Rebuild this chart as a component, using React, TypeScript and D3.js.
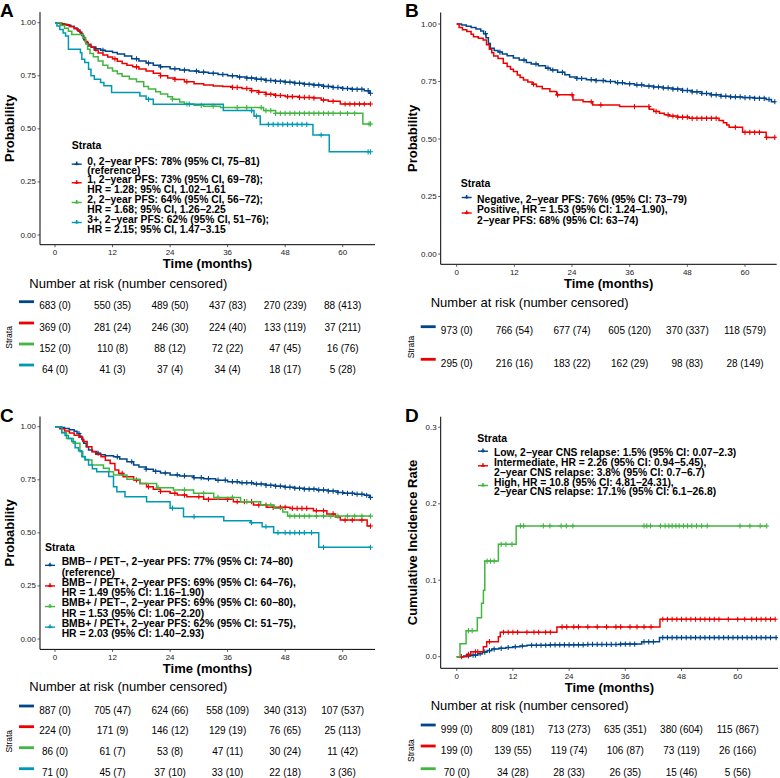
import React from 'react';
import * as d3 from 'd3';

type Pt = [number, number];

// ---------- shared ----------
const TIME_TICKS = [0, 12, 24, 36, 48, 60];
const PROB_TICKS = [0, 0.25, 0.5, 0.75, 1];
const CIR_TICKS = [0, 0.1, 0.2, 0.3];
const COLORS = ['#00468B', '#ED0000', '#42B540', '#0099B4'];

// ---------- Panel A ----------
const A_CURVE_0: Pt[] = [[0,1],[0.8,0.997],[1.5,0.993],[2.5,0.988],[3.3,0.982],[4,0.975],[4.6,0.966],[5.2,0.955],[5.6,0.94],[6,0.92],[6.4,0.905],[6.9,0.89],[7.6,0.884],[8.5,0.877],[9.5,0.87],[10.5,0.865],[12,0.86],[13,0.852],[14.5,0.843],[16,0.83],[17.5,0.82],[19,0.81],[20.5,0.8],[22,0.792],[24,0.783],[26,0.777],[28,0.772],[30,0.767],[32,0.762],[34,0.756],[36,0.75],[38,0.744],[40,0.739],[42,0.734],[44,0.728],[46,0.724],[48,0.72],[50,0.715],[52,0.71],[54,0.706],[56,0.7],[58,0.695],[60,0.69],[62,0.686],[64.5,0.68],[65.5,0.668]];
const A_CURVE_1: Pt[] = [[0,1],[1,0.995],[2,0.99],[3,0.982],[4,0.972],[4.8,0.96],[5.3,0.948],[5.8,0.93],[6.3,0.912],[6.8,0.898],[7.5,0.885],[8.2,0.87],[9,0.857],[10,0.848],[11,0.838],[12,0.83],[13,0.818],[14,0.808],[15,0.8],[16.2,0.792],[17.5,0.782],[19,0.772],[20.5,0.762],[22,0.75],[23.5,0.74],[25,0.733],[27,0.722],[29,0.712],[31,0.706],[33,0.702],[35,0.699],[37,0.695],[39,0.69],[41,0.68],[42.5,0.672],[44,0.663],[46,0.657],[48,0.652],[51,0.648],[54,0.645],[55.5,0.636],[57,0.63],[59.5,0.617]];
const A_CURVE_2: Pt[] = [[0,1],[1.2,0.987],[2,0.974],[2.8,0.96],[3.5,0.945],[5.8,0.928],[6.4,0.9],[6.8,0.875],[7.3,0.855],[8,0.84],[9,0.82],[10,0.8],[11,0.787],[12,0.773],[13,0.76],[14,0.748],[15.5,0.735],[17,0.722],[18.5,0.7],[19.5,0.688],[21,0.675],[22,0.664],[23.5,0.651],[24.5,0.64],[26,0.627],[27,0.617],[29,0.611],[31,0.607],[34.5,0.6],[43.5,0.586],[46,0.573],[64.2,0.523]];
const A_CURVE_3: Pt[] = [[0,1],[0.4,0.984],[1,0.968],[1.7,0.952],[2.2,0.937],[2.8,0.875],[5.3,0.859],[5.6,0.828],[6.2,0.812],[7,0.781],[7.5,0.75],[8.2,0.734],[9.5,0.718],[10.2,0.703],[11.8,0.671],[17.7,0.655],[19,0.639],[20.5,0.616],[35.1,0.586],[41.5,0.56],[42.8,0.521],[53.8,0.471],[57.2,0.392]];
const A_CENSOR_0 = [8.5,10,17,19.5,22,25,27,29.5,31,33,35,37,38.5,40,41,42,43,44,45,46,47,48,49,50,51,52,53,54,55,56,57,58,59,60,61,62,63,64,65.3,65.8];
const A_CENSOR_1 = [12.5,17,22,25,27.5,37,38,40,41,42.5,44,45,46,47,48.5,49.5,51,52,53,54,56,58,60.5,61.5,62.5,63.5,64.5,65.8];
const A_CENSOR_2 = [24.5,27.5,30.5,33,38,40,43,44,45,46,47,48,49,50,51,52,53,54,55,56,57,58,59.5,61,62.5,65.5,65.8];
const A_CENSOR_3 = [19.5,28,41,42,44.5,45.5,46.5,47.5,48.5,49.5,50.5,51.5,52.5,55.5,65.3,65.8];
const A_AT_RISK = [[683,550,489,437,270,88],[369,281,246,224,133,37],[152,110,88,72,47,16],[64,41,37,34,18,5]];
const A_CENSORED = [[0,35,50,83,239,413],[0,24,30,40,119,211],[0,8,12,22,45,76],[0,3,4,4,17,28]];
const A_LEGEND = [
  ['0, 2−year PFS: 78% (95% CI, 75−81)', '(reference)'],
  ['1, 2−year PFS: 73% (95% CI, 69−78);', 'HR = 1.28; 95% CI, 1.02−1.61'],
  ['2, 2−year PFS: 64% (95% CI, 56−72);', 'HR = 1.68; 95% CI, 1.26−2.25'],
  ['3+, 2−year PFS: 62% (95% CI, 51−76);', 'HR = 2.15; 95% CI, 1.47−3.15'],
];

// ---------- Panel B ----------
const B_CURVE_0: Pt[] = [[0,1],[1,0.996],[2,0.99],[3,0.985],[4,0.978],[5,0.97],[5.6,0.958],[6.1,0.94],[6.6,0.915],[7,0.895],[7.8,0.885],[8.6,0.878],[9.5,0.87],[10.5,0.862],[11.8,0.852],[13,0.843],[14.5,0.833],[15.5,0.826],[17,0.818],[18.5,0.808],[19.5,0.8],[21,0.79],[22.5,0.779],[23.5,0.77],[25,0.763],[27,0.758],[29,0.754],[31,0.75],[33,0.745],[35,0.74],[37,0.735],[39,0.73],[41,0.726],[43,0.722],[45,0.717],[47,0.711],[49,0.705],[51,0.698],[53,0.692],[55,0.686],[57,0.683],[59.5,0.68],[62,0.677],[64.4,0.672],[65.5,0.662]];
const B_CURVE_1: Pt[] = [[0,1],[0.5,0.985],[1.2,0.975],[2.1,0.967],[3,0.955],[3.5,0.945],[4.5,0.938],[5.5,0.93],[6.2,0.91],[6.8,0.89],[7.3,0.875],[7.7,0.861],[8.6,0.85],[9.7,0.829],[10.5,0.815],[11.2,0.803],[11.8,0.793],[12.6,0.778],[13.2,0.767],[13.9,0.757],[14.8,0.748],[15.7,0.738],[16.6,0.728],[17.8,0.718],[19.4,0.706],[20.8,0.692],[24.2,0.67],[26.3,0.662],[28.3,0.648],[33.9,0.641],[40.1,0.629],[41,0.62],[42.2,0.612],[43.2,0.605],[44.3,0.6],[46,0.595],[48.4,0.59],[54.6,0.58],[55.5,0.571],[56.2,0.561],[56.7,0.551],[59.5,0.529],[64.4,0.507]];
const B_CENSOR_0 = [6,9,14,16.5,19,20,22,25,26,28,29,30.5,32,33.5,34.5,36,37.5,38.5,40,41,42,43,44,45,46,47,48,49,50,51,52,53,54,55,56,57,58,59,60,61,62,63,64,65,66.2];
const B_CENSOR_1 = [16,21,24,28,30,37,40,41.5,44,45,46,47,48,49,50,51,52,53,54,58,60,61,62,63,64.5,66.2];
const B_AT_RISK = [[973,766,677,605,370,118],[295,216,183,162,98,28]];
const B_CENSORED = [[0,54,74,120,337,579],[0,16,22,29,83,149]];
const B_LEGEND = [
  ['Negative, 2−year PFS: 76% (95% CI: 73−79)'],
  ['Positive, HR = 1.53 (95% CI: 1.24−1.90),', '2−year PFS: 68% (95% CI: 63−74)'],
];

// ---------- Panel C ----------
const C_CURVE_0: Pt[] = [[0,1],[1,0.996],[2,0.992],[3,0.986],[4,0.978],[4.6,0.968],[5.2,0.955],[5.6,0.94],[6,0.922],[6.5,0.905],[7,0.89],[7.8,0.883],[8.7,0.875],[9.5,0.868],[10.5,0.863],[12.2,0.858],[13.5,0.848],[15,0.835],[16.4,0.82],[17.5,0.81],[19,0.8],[20.5,0.79],[22,0.782],[24,0.773],[26,0.768],[28.9,0.76],[31,0.755],[33.5,0.748],[36,0.741],[38.5,0.736],[41.4,0.73],[44,0.724],[46,0.72],[48,0.715],[50,0.71],[52,0.706],[54.6,0.702],[57,0.697],[59,0.69],[60.2,0.686],[62.5,0.682],[64.5,0.677],[65.6,0.667]];
const C_CURVE_1: Pt[] = [[0,1],[1,0.99],[2,0.98],[3,0.97],[4,0.96],[5,0.95],[5.8,0.93],[6.7,0.906],[7.7,0.882],[8.5,0.87],[9.6,0.859],[10.5,0.842],[11.5,0.827],[12.5,0.796],[13.3,0.78],[14.2,0.764],[16.4,0.749],[17.7,0.733],[19.1,0.717],[20.5,0.705],[22,0.695],[24,0.686],[25.5,0.678],[27.5,0.67],[31,0.658],[37.2,0.647],[41.4,0.631],[44.2,0.62],[49,0.615],[53.9,0.604],[56.7,0.589],[58.5,0.575],[59.5,0.56],[65.1,0.532]];
const C_CURVE_2: Pt[] = [[0,1],[1.4,0.973],[2.4,0.945],[3.8,0.922],[5.2,0.882],[5.8,0.86],[6.25,0.843],[7.7,0.82],[10.1,0.804],[11.3,0.788],[12.2,0.772],[15,0.752],[17.7,0.733],[21.2,0.713],[24.7,0.702],[28.9,0.686],[33.1,0.667],[38.7,0.647],[42.9,0.631],[45.7,0.616],[47.5,0.598],[48.5,0.579]];
const C_CURVE_3: Pt[] = [[0,1],[1.4,0.972],[2.1,0.958],[2.8,0.944],[3.5,0.93],[4.2,0.901],[4.9,0.887],[5.6,0.859],[6.3,0.845],[7,0.82],[7.8,0.802],[8.7,0.788],[11.2,0.765],[12.2,0.717],[12.9,0.694],[14.6,0.67],[19.1,0.647],[24,0.616],[26.8,0.576],[35.2,0.557],[40.8,0.548],[43.2,0.529],[45.6,0.501],[55,0.432]];
const C_CENSOR_0 = [5,9,13,16,19,21,23,25.5,27,29,30.5,32,34,35.5,37,38,39,40,41,42,43,44,45,46,47,48,49,50,51,52,53,54,55,56,57,58,59,60,61,62,63,64,65,65.8];
const C_CENSOR_1 = [14,17,19.5,22,25,27,30,32,36,38,39.5,41,42.5,44,45.5,47,48,49.5,50.5,51.5,52.5,54.5,56,58,60.5,62,64,65.8];
const C_CENSOR_2 = [21.5,27,31,34,37,40,45,49,50,51,52,53,54.5,56,57.5,59,61,62.5,64,65.8];
const C_CENSOR_3 = [24.5,29,41,44,46.5,48,49,50,51,52,53.5,56,65.8];
const C_AT_RISK = [[887,705,624,558,340,107],[224,171,146,129,76,25],[86,61,53,47,30,11],[71,45,37,33,22,3]];
const C_CENSORED = [[0,47,66,109,313,537],[0,9,12,19,65,113],[0,7,8,11,24,42],[0,7,10,10,18,36]];
const C_LEGEND = [
  ['BMB− / PET−, 2−year PFS: 77% (95% CI: 74−80)', '(reference)'],
  ['BMB− / PET+, 2−year PFS: 69% (95% CI: 64−76),', 'HR = 1.49 (95% CI: 1.16−1.90)'],
  ['BMB+ / PET−, 2−year PFS: 69% (95% CI: 60−80),', 'HR = 1.53 (95% CI: 1.06−2.20)'],
  ['BMB+ / PET+, 2−year PFS: 62% (95% CI: 51−75),', 'HR = 2.03 (95% CI: 1.40−2.93)'],
];

// ---------- Panel D ----------
const D_CURVE_0: Pt[] = [[0,0],[1.5,0.001],[3,0.002],[4.5,0.004],[5.5,0.006],[6.5,0.008],[7.5,0.01],[9,0.011],[10.5,0.012],[12,0.013],[13.5,0.014],[15,0.015],[20,0.0155],[28,0.016],[35,0.0165],[39.5,0.0195],[43.3,0.025]];
const D_CURVE_1: Pt[] = [[0,0],[2.1,0.003],[3,0.0065],[5.7,0.013],[6.4,0.0196],[8.9,0.026],[9.3,0.032],[21.4,0.039],[43.4,0.049]];
const D_CURVE_2: Pt[] = [[0,0],[0.7,0.017],[2,0.034],[4.4,0.051],[5.3,0.07],[5.7,0.087],[6,0.125],[8.9,0.147],[12.7,0.171]];
const D_CENSOR_0 = [2.5,3.5,4,5,6,7,8,9.5,11,12.5,14,16,17,18,19,20,21,22,23,24,25,26,27,28,29,30,31,32,33,34,35,36,37,38,40,41,42,44,45,46,47,48,49,50,51,52,53,54,55,56,57,58,59,60,61,62,63,64,65,66,67,68.2];
const D_CENSOR_1 = [1,2.5,4,4.5,7,10,11,12,13,15,16.5,17.5,19,20,22.5,23.5,25,26,28,30,32,34,35,37,38.5,40,41.5,44,45,46,47,48,49,50,51,52,53,54,55,56,58,60,61.5,63,64,65,66,67,68];
const D_CENSOR_2 = [2.5,3.3,6.5,7.2,8,9.5,10.5,11.8,13.6,14.3,18.5,19.9,22.3,23.4,24.8,40,40.6,41.4,43.5,44.5,45.3,46,46.8,47.5,48.4,49.3,50.2,51.2,52.3,53.5,60.5,62.6,64.8,66.2];
const D_AT_RISK = [[999,809,713,635,380,115],[199,139,119,106,73,26],[70,34,28,26,15,5]];
const D_CENSORED = [[0,181,273,351,604,867],[0,55,74,87,119,166],[0,28,33,35,46,56]];
const D_LEGEND = [
  ['Low, 2−year CNS relapse: 1.5% (95% CI: 0.07−2.3)'],
  ['Intermediate, HR = 2.26 (95% CI: 0.94−5.45),', '2−year CNS relapse: 3.8% (95% CI: 0.7−6.7)'],
  ['High, HR = 10.8 (95% CI: 4.81−24.31),', '2−year CNS relapse: 17.1% (95% CI: 6.1−26.8)'],
];

// ---------- rendering ----------
const FONT = '"Liberation Sans", Arial, Helvetica, sans-serif';

interface PanelCfg {
  id: string;
  letter: string; letterX: number; letterY: number;
  frame: { left: number; right: number; top: number; bottom: number };
  xRange: [number, number];
  yDomain: [number, number]; yRange: [number, number];
  yTicks: number[]; yFmt: (v: number) => string;
  yLabel: string; yLabelX: number;
  curves: Pt[][]; censors: number[][];
  legend: string[][];
  legendLayout: { titleX: number; titleY: number; textX: number; keyX: number; lineYs: number[] };
  atRisk: number[][]; censored: number[][];
  riskLayout: { titleX: number; titleY: number; rowYs: number[]; barX: [number, number]; strataX: number };
}

function stepAt(points: Pt[], t: number): number {
  let v = points[0][1];
  for (const p of points) {
    if (p[0] <= t) v = p[1];
    else break;
  }
  return v;
}

function Panel({ cfg }: { cfg: PanelCfg }) {
  const x = d3.scaleLinear().domain([0, 60]).range(cfg.xRange);
  const y = d3.scaleLinear().domain(cfg.yDomain).range(cfg.yRange);
  const f = cfg.frame;
  const line = d3.line<Pt>().x(d => x(d[0])).y(d => y(d[1])).curve(d3.curveStepAfter);
  const clipId = 'clip-' + cfg.id;
  const L = cfg.legendLayout;
  const R = cfg.riskLayout;

  let li = 0;
  const legendItems = cfg.legend.map((lines, i) => {
    const ys = lines.map(() => L.lineYs[li++]);
    return { lines, ys, color: COLORS[i] };
  });

  return (
    <g fontFamily={FONT}>
      <defs>
        <clipPath id={clipId}>
          <rect x={f.left} y={f.top} width={f.right - f.left} height={f.bottom - f.top} />
        </clipPath>
      </defs>
      <text x={cfg.letterX} y={cfg.letterY} fontSize={19} fontWeight="bold" fill="#000">{cfg.letter}</text>

      <g clipPath={`url(#${clipId})`}>
        {cfg.curves.map((pts, i) => {
          const cens = cfg.censors[i];
          const lastT = Math.max(pts[pts.length - 1][0], cens.length ? cens[cens.length - 1] : 0);
          const ext: Pt[] = [...pts, [lastT, pts[pts.length - 1][1]]];
          return (
            <g key={i}>
              <path d={line(ext) || ''} fill="none" stroke={COLORS[i]} strokeWidth={1.5} />
              {cens.map((t, j) => {
                const cx = x(t), cy = y(stepAt(pts, t));
                return <path key={j} d={`M${cx - 2.5},${cy}H${cx + 2.5}M${cx},${cy - 2.6}V${cy + 2.6}`} stroke={COLORS[i]} strokeWidth={1.1} fill="none" />;
              })}
            </g>
          );
        })}
      </g>

      <line x1={f.left} x2={f.left} y1={f.top} y2={f.bottom} stroke="#000" strokeWidth={1} />
      <line x1={f.left} x2={f.right} y1={f.bottom} y2={f.bottom} stroke="#000" strokeWidth={1} />
      {cfg.yTicks.map(v => (
        <g key={v}>
          <line x1={f.left - 2.5} x2={f.left} y1={y(v)} y2={y(v)} stroke="#333" strokeWidth={0.8} />
          <text x={f.left - 4} y={y(v)} fontSize={8} textAnchor="end" dominantBaseline="central" fill="#222">{cfg.yFmt(v)}</text>
        </g>
      ))}
      {TIME_TICKS.map(t => (
        <g key={t}>
          <line x1={x(t)} x2={x(t)} y1={f.bottom} y2={f.bottom + 2.5} stroke="#333" strokeWidth={0.8} />
          <text x={x(t)} y={f.bottom + 8} fontSize={8} textAnchor="middle" dominantBaseline="central" fill="#222">{t}</text>
        </g>
      ))}
      <text x={(f.left + f.right) / 2} y={f.bottom + 19} fontSize={13} fontWeight="bold" textAnchor="middle" dominantBaseline="central">Time (months)</text>
      <text transform={`translate(${cfg.yLabelX},${(f.top + f.bottom) / 2}) rotate(-90)`} fontSize={13} fontWeight="bold" textAnchor="middle">{cfg.yLabel}</text>

      <text x={L.titleX} y={L.titleY} fontSize={10.5} fontWeight="bold" dominantBaseline="central">Strata</text>
      {legendItems.map((it, i) => {
        const ky = d3.mean(it.ys)! - 1.5;
        return (
          <g key={i}>
            <line x1={L.keyX} x2={L.keyX + 10} y1={ky} y2={ky} stroke={it.color} strokeWidth={1.4} />
            <path d={`M${L.keyX + 5},${ky - 2.6}V${ky + 1.2}M${L.keyX + 3},${ky}H${L.keyX + 7}`} stroke={it.color} strokeWidth={1.5} />
            {it.lines.map((s, j) => (
              <text key={j} x={L.textX} y={it.ys[j]} fontSize={10.3} fontWeight="bold" dominantBaseline="central">{s}</text>
            ))}
          </g>
        );
      })}

      <text x={R.titleX} y={R.titleY} fontSize={13} dominantBaseline="central">Number at risk (number censored)</text>
      <text transform={`translate(${R.strataX},${d3.mean(R.rowYs)}) rotate(-90)`} fontSize={8.5} textAnchor="middle">Strata</text>
      {cfg.atRisk.map((row, i) => (
        <g key={i}>
          <line x1={R.barX[0]} x2={R.barX[1]} y1={R.rowYs[i] - 4} y2={R.rowYs[i] - 4} stroke={COLORS[i]} strokeWidth={2.8} />
          {row.map((n, j) => (
            <text key={j} x={x(TIME_TICKS[j])} y={R.rowYs[i]} fontSize={10} textAnchor="middle" dominantBaseline="central">{`${n} (${cfg.censored[i][j]})`}</text>
          ))}
        </g>
      ))}
    </g>
  );
}

const fmt2 = (v: number) => d3.format('.2f')(v);
const fmt1 = (v: number) => d3.format('.1f')(v);

const PANELS: PanelCfg[] = [
  {
    id: 'A', letter: 'A', letterX: 0, letterY: 16.5,
    frame: { left: 40, right: 375, top: 12.1, bottom: 244.7 },
    xRange: [55, 342.7], yDomain: [0, 1], yRange: [235, 22.7],
    yTicks: PROB_TICKS, yFmt: fmt2, yLabel: 'Probability', yLabelX: 14,
    curves: [A_CURVE_0, A_CURVE_1, A_CURVE_2, A_CURVE_3],
    censors: [A_CENSOR_0, A_CENSOR_1, A_CENSOR_2, A_CENSOR_3],
    legend: A_LEGEND,
    legendLayout: { titleX: 71.7, titleY: 145, textX: 87.3, keyX: 71.7, lineYs: [161, 170.3, 179.5, 189, 199, 209, 219, 229] },
    atRisk: A_AT_RISK, censored: A_CENSORED,
    riskLayout: { titleX: 29.3, titleY: 283, rowYs: [305.7, 327, 348, 369], barX: [19, 34], strataX: 12 },
  },
  {
    id: 'B', letter: 'B', letterX: 405, letterY: 16.5,
    frame: { left: 440.7, right: 776.7, top: 12.5, bottom: 264.3 },
    xRange: [456.7, 745], yDomain: [0, 1], yRange: [254, 24],
    yTicks: PROB_TICKS, yFmt: fmt2, yLabel: 'Probability', yLabelX: 416.5,
    curves: [B_CURVE_0, B_CURVE_1],
    censors: [B_CENSOR_0, B_CENSOR_1],
    legend: B_LEGEND,
    legendLayout: { titleX: 460.7, titleY: 182.7, textX: 477, keyX: 461.7, lineYs: [199, 209, 220] },
    atRisk: B_AT_RISK, censored: B_CENSORED,
    riskLayout: { titleX: 430.7, titleY: 302.3, rowYs: [330.7, 363.3], barX: [420.7, 435.7], strataX: 414 },
  },
  {
    id: 'C', letter: 'C', letterX: 0, letterY: 421.5,
    frame: { left: 40, right: 375, top: 416.5, bottom: 649.4 },
    xRange: [55, 342.7], yDomain: [0, 1], yRange: [639, 426.7],
    yTicks: PROB_TICKS, yFmt: fmt2, yLabel: 'Probability', yLabelX: 14,
    curves: [C_CURVE_0, C_CURVE_1, C_CURVE_2, C_CURVE_3],
    censors: [C_CENSOR_0, C_CENSOR_1, C_CENSOR_2, C_CENSOR_3],
    legend: C_LEGEND,
    legendLayout: { titleX: 45, titleY: 547.3, textX: 61.7, keyX: 45, lineYs: [561.7, 572, 582.3, 592.6, 602.9, 613.2, 623.5, 633.8] },
    atRisk: C_AT_RISK, censored: C_CENSORED,
    riskLayout: { titleX: 29.3, titleY: 686.7, rowYs: [710, 730.7, 751.7, 772.7], barX: [19, 34], strataX: 12 },
  },
  {
    id: 'D', letter: 'D', letterX: 405, letterY: 421.5,
    frame: { left: 440.7, right: 778, top: 416.7, bottom: 668.3 },
    xRange: [456.7, 737.7], yDomain: [0, 0.3], yRange: [656.7, 427.3],
    yTicks: CIR_TICKS, yFmt: fmt1, yLabel: 'Cumulative Incidence Rate', yLabelX: 416.5,
    curves: [D_CURVE_0, D_CURVE_1, D_CURVE_2],
    censors: [D_CENSOR_0, D_CENSOR_1, D_CENSOR_2],
    legend: D_LEGEND,
    legendLayout: { titleX: 477.3, titleY: 437.7, textX: 494, keyX: 478, lineYs: [452.7, 462.3, 472.3, 482.3, 491.7] },
    atRisk: D_AT_RISK, censored: D_CENSORED,
    riskLayout: { titleX: 430.7, titleY: 705.7, rowYs: [729, 750, 772.7], barX: [420.7, 435.7], strataX: 414 },
  },
];

export default function App() {
  return (
    <svg width={780} height={778} style={{ position: 'absolute', left: 0, top: 0, background: '#fff' }}>
      <rect x={0} y={0} width={780} height={778} fill="#fff" />
      {PANELS.map(p => <Panel key={p.id} cfg={p} />)}
    </svg>
  );
}
